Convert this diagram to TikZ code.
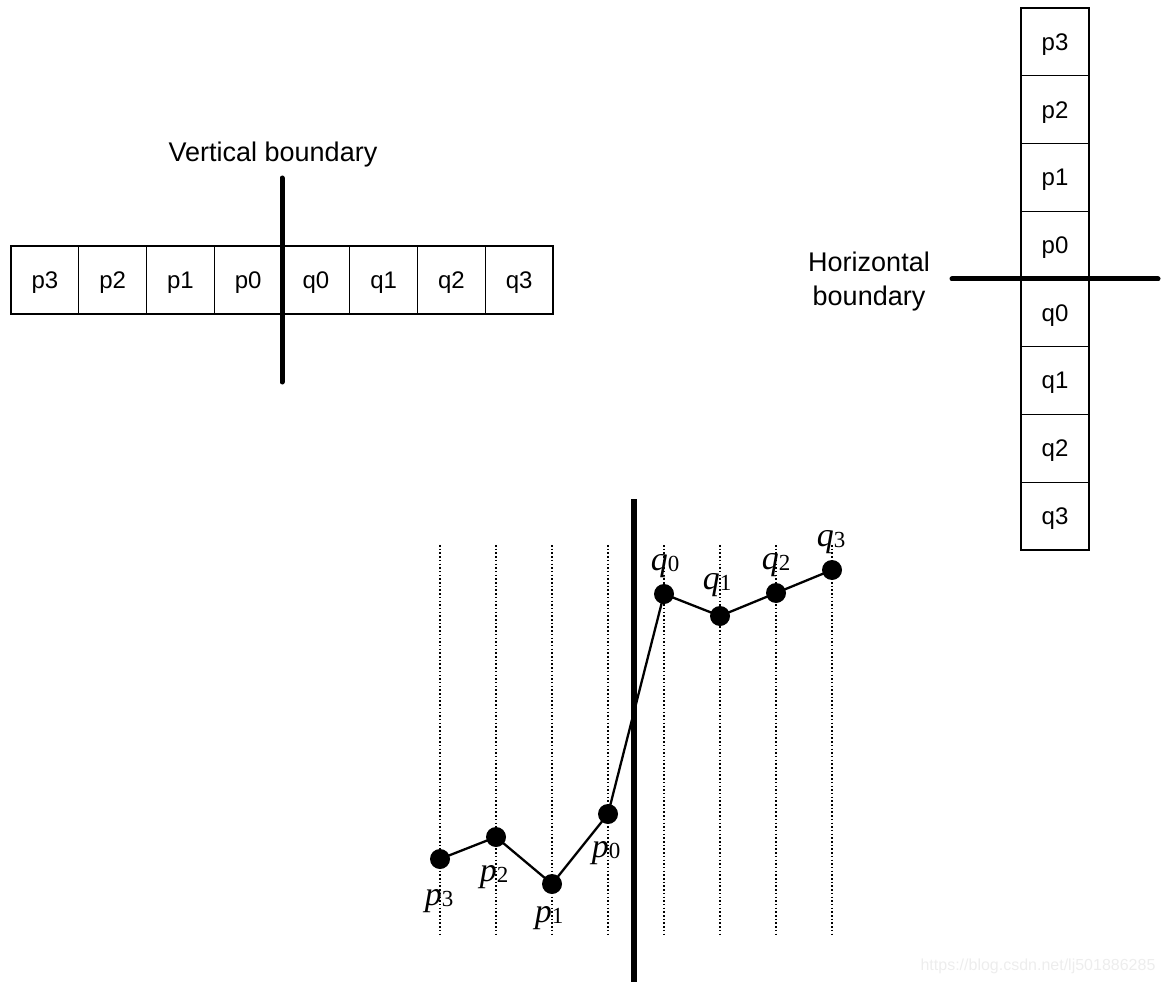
\documentclass[tikz,border=0pt]{standalone}
\usepackage{fontspec}
\setmainfont{Liberation Sans}
\newfontfamily\tmsfont{Liberation Serif}
\newcommand\mlbl[2]{{\tmsfont\fontsize{34}{34}\selectfont\itshape #1}{\tmsfont\fontsize{23}{23}\selectfont\raisebox{-0.1ex}{#2}}}
\begin{document}
\begin{tikzpicture}[x=1pt,y=-1pt,
  cell/.style={draw, line width=1.4pt, minimum width=67.75pt, minimum height=67.75pt, inner sep=0pt, text depth=0pt, font=\fontsize{24}{28}\selectfont},
  boundary/.style={line width=5pt, line cap=round},
  guide/.style={line width=1.5pt, dash pattern=on 1.5pt off 2.2pt},
  dot/.style={circle, fill=black, inner sep=0pt, minimum size=20pt},
  link/.style={line width=2.3pt},
  lbl/.style={font=\fontsize{27}{34}\selectfont, align=center},
  mlab/.style={anchor=base, inner sep=0pt}]
\useasboundingbox (0,0) rectangle (1164,984);
% horizontal row of cells
\foreach \i/\t in {0/p3,1/p2,2/p1,3/p0,4/q0,5/q1,6/q2,7/q3}
  \node[cell] (h\t) at ({11+67.75*(\i+0.5)},280) {\t};
\node[lbl] (vlab) at (273,155) {Vertical boundary};
\coordinate (vb1) at (282,178);
\coordinate (vb2) at (282,382);
\draw[boundary] (vb1) -- (vb2);
% vertical column of cells
\foreach \i/\t in {0/p3,1/p2,2/p1,3/p0,4/q0,5/q1,6/q2,7/q3}
  \node[cell] (v\t) at (1055,{8+67.75*(\i+0.5)}) {\t};
\node[lbl] (hlab) at (869,282) {Horizontal\\boundary};
\coordinate (hb1) at (952,279);
\coordinate (hb2) at (1158,279);
\draw[boundary] (hb1) -- (hb2);
% bottom graph
\foreach \x/\n in {440/a,496/b,552/c,608/d,664/e,720/f,776/g,832/h}{
  \coordinate (g\n1) at (\x,545);
  \coordinate (g\n2) at (\x,934);
  \draw[guide] (g\n1) -- (g\n2);
}
\coordinate (eb1) at (634,499);
\coordinate (eb2) at (634,982);
\draw[line width=5.5pt] (eb1) -- (eb2);
\node[dot] (p3) at (440,859) {};
\node[dot] (p2) at (496,837) {};
\node[dot] (p1) at (552,884) {};
\node[dot] (p0) at (608,814) {};
\node[dot] (q0) at (664,594) {};
\node[dot] (q1) at (720,616) {};
\node[dot] (q2) at (776,593) {};
\node[dot] (q3) at (832,570) {};
\draw[link] (p3.center) -- (p2.center) -- (p1.center) -- (p0.center) -- (q0.center) -- (q1.center) -- (q2.center) -- (q3.center);
\node[mlab] (lq0) at (665,570) {\mlbl{q}{0}};
\node[mlab] (lq1) at (717,589) {\mlbl{q}{1}};
\node[mlab] (lq2) at (776,569) {\mlbl{q}{2}};
\node[mlab] (lq3) at (831,546) {\mlbl{q}{3}};
\node[mlab] (lp0) at (606,857) {\mlbl{p}{0}};
\node[mlab] (lp1) at (549,922) {\mlbl{p}{1}};
\node[mlab] (lp2) at (494,881) {\mlbl{p}{2}};
\node[mlab] (lp3) at (439,905) {\mlbl{p}{3}};
\node[font=\fontsize{16}{18}\selectfont, text=black!7] (wm) at (1038,966) {https://blog.csdn.net/lj501886285};
\end{tikzpicture}
\end{document}
